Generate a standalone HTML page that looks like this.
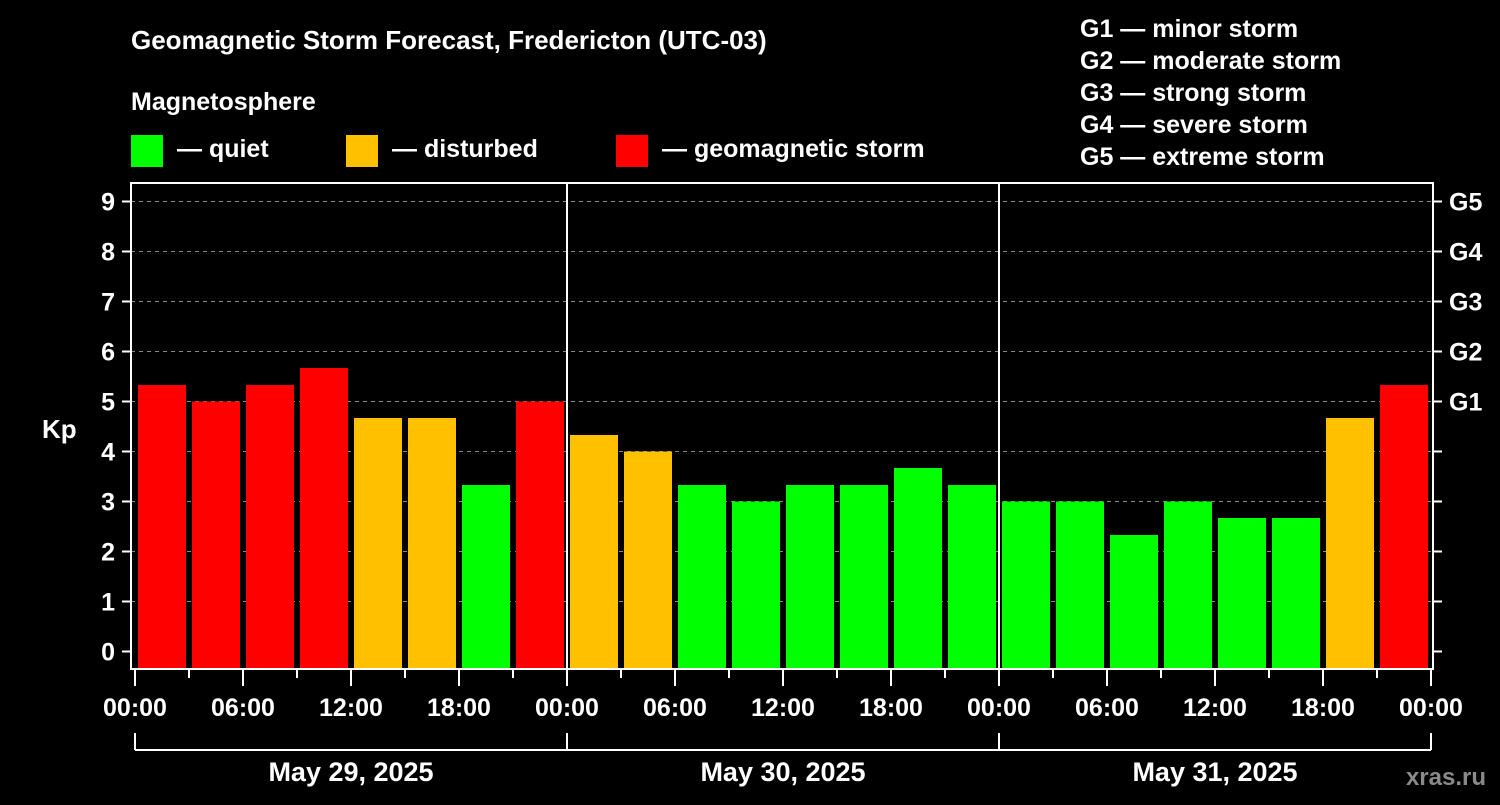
<!DOCTYPE html>
<html><head><meta charset="utf-8"><style>
body{margin:0;background:#000;width:1500px;height:800px;overflow:hidden;font-family:"Liberation Sans",Arial,sans-serif}
svg text{font-family:"Liberation Sans",Arial,sans-serif;font-weight:bold;fill:#fff}
</style></head><body>
<svg id="c" width="1500" height="800" xmlns="http://www.w3.org/2000/svg">
<text x="131" y="49" font-size="26">Geomagnetic Storm Forecast, Fredericton (UTC-03)</text>
<text x="131" y="110" font-size="25">Magnetosphere</text>
<rect x="131" y="135" width="32" height="32" fill="#00ff00"/>
<text x="177" y="157" font-size="25">— quiet</text>
<rect x="346" y="135" width="32" height="32" fill="#ffc000"/>
<text x="392" y="157" font-size="25">— disturbed</text>
<rect x="616" y="135" width="32" height="32" fill="#ff0000"/>
<text x="662" y="157" font-size="25">— geomagnetic storm</text>
<g font-size="25">
<text x="1080" y="37">G1 — minor storm</text>
<text x="1080" y="69">G2 — moderate storm</text>
<text x="1080" y="101">G3 — strong storm</text>
<text x="1080" y="133">G4 — severe storm</text>
<text x="1080" y="165">G5 — extreme storm</text>
</g>
<text x="42" y="438" font-size="26">Kp</text>
<text x="1486" y="785" font-size="24" text-anchor="end" fill="#888" style="fill:#8a8a8a">xras.ru</text>
<g id="plot"></g>
</svg>
<script>
const kpValues=[5.33,5,5.33,5.67,4.67,4.67,3.33,5,4.33,4,3.33,3,3.33,3.33,3.67,3.33,3,3,2.33,3,2.67,2.67,4.67,5.33];
const yTicks=[0,1,2,3,4,5,6,7,8,9];
const gLabels=["G1","G2","G3","G4","G5"];
const gLevels=[5,6,7,8,9];
const xTickLabels=["00:00","06:00","12:00","18:00"];
const dayLabels=["May 29, 2025","May 30, 2025","May 31, 2025"];
const NS="http://www.w3.org/2000/svg";
const g=document.getElementById('plot');
const L=131,R=1433,T=183,B=669,X0=135,HPX=18;
const y=v=>651.5-v*50;
const x=h=>X0+h*HPX;
function mk(t,a){const e=document.createElementNS(NS,t);for(const k in a)e.setAttribute(k,a[k]);g.appendChild(e);return e;}
yTicks.forEach(v=>{
  if(v>0){const l=mk('line',{x1:L,x2:R,y1:y(v),y2:y(v),stroke:'#888','stroke-dasharray':'4,4','stroke-width':1});
  
  }
  const t=mk('line',{x1:L-9,x2:L,y1:y(v),y2:y(v),stroke:'#fff','stroke-width':2});
  
  
  const r=mk('line',{x1:R,x2:R+9,y1:y(v),y2:y(v),stroke:'#fff','stroke-width':2});
  
  
  const tx=mk('text',{x:L-16,y:y(v)+9,'font-size':25,'text-anchor':'end'});tx.textContent=v;
  
  
});
gLabels.forEach((s,i)=>{const t=mk('text',{x:1449,y:y(gLevels[i])+9,'font-size':25});t.textContent=s;
  
  });
kpValues.forEach((v,i)=>{
  const c=v>=5?'#ff0000':(v>=4?'#ffc000':'#00ff00');
  const b=mk('rect',{x:x(i*3)+3,y:y(v),width:48,height:B-1-y(v),fill:c});
  
  
});
[1,2].forEach(d=>{const l=mk('line',{x1:x(d*24),x2:x(d*24),y1:T,y2:B,stroke:'#fff','stroke-width':2});
  
  });
const fr=mk('rect',{x:L,y:T,width:R-L,height:B-T,fill:'none',stroke:'#fff','stroke-width':2});


for(let h=0;h<=72;h+=3){
  const major=h%6===0;
  const t=mk('line',{x1:x(h),x2:x(h),y1:B,y2:B+(major?17:9),stroke:'#fff','stroke-width':2});
  
  
  if(major){const tx=mk('text',{x:x(h),y:716,'font-size':25,'text-anchor':'middle'});
    tx.textContent=h===72?xTickLabels[0]:xTickLabels[(h%24)/6];
    
    }
}
const br=mk('line',{x1:x(0),x2:x(72),y1:750,y2:750,stroke:'#fff','stroke-width':2});


for(let d=0;d<=3;d++){const l=mk('line',{x1:x(d*24),x2:x(d*24),y1:733,y2:750,stroke:'#fff','stroke-width':2});
  
  }
dayLabels.forEach((s,d)=>{const t=mk('text',{x:x(d*24+12),y:781,'font-size':27,'text-anchor':'middle'});t.textContent=s;
  
  });
</script>
</body></html>
